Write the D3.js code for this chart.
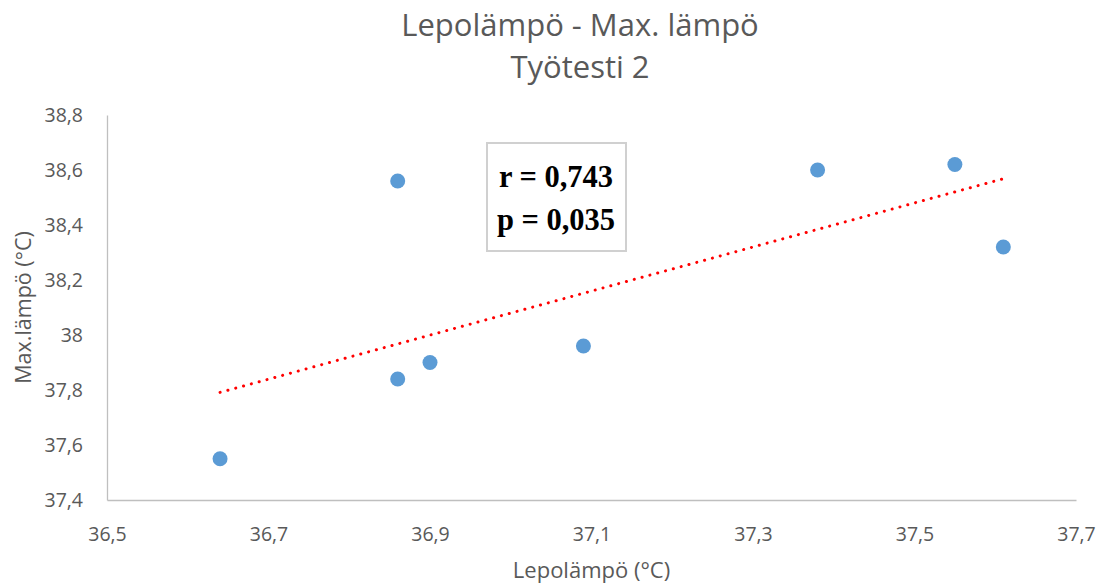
<!DOCTYPE html>
<html>
<head>
<meta charset="utf-8">
<script src="https://cdn.jsdelivr.net/npm/d3@7"></script>
<style>
  body { margin: 0; background: #fff; }
  svg { display: block; }
</style>
</head>
<body>
<div id="chart"></div>
<script>
// values
var lepo = [36.64, 36.86, 36.86, 36.90, 37.09, 37.38, 37.55, 37.61];
var maxl = [37.55, 38.56, 37.84, 37.90, 37.96, 38.60, 38.62, 38.32];
var xTicks = [36.5, 36.7, 36.9, 37.1, 37.3, 37.5, 37.7];
var yTicks = [37.4, 37.6, 37.8, 38.0, 38.2, 38.4, 38.6, 38.8];
var titleLines = ["Lepolämpö - Max. lämpö", "Työtesti 2"];
var statLines = ["r = 0,743", "p = 0,035"];

var width = 1106, height = 587;
var margin = {left: 107, right: 30, top: 115, bottom: 87};

var svg = d3.select("#chart").append("svg")
    .attr("width", width)
    .attr("height", height);

var x = d3.scaleLinear().domain([36.5, 37.7]).range([margin.left, width - margin.right]);
var y = d3.scaleLinear().domain([37.4, 38.8]).range([height - margin.bottom, margin.top]);

var fmt = function(d) { return d3.format(".1~f")(d).replace(".", ","); };

// axes, no tick marks
var xAxis = svg.append("g")
    .attr("transform", "translate(0," + y(37.4) + ")")
    .call(d3.axisBottom(x).tickValues(xTicks).tickFormat(fmt).tickSize(0).tickPadding(27));
var yAxis = svg.append("g")
    .attr("transform", "translate(" + x(36.5) + ",0)")
    .call(d3.axisLeft(y).tickValues(yTicks).tickFormat(fmt).tickSize(0).tickPadding(24));

[xAxis, yAxis].forEach(function(a) {
  a.select(".domain").attr("stroke", "#bfbfbf").attr("stroke-width", 1.3);
  a.selectAll("text")
    .attr("fill", "#595959")
    .style("font-family", "'Open Sans', sans-serif")
    .style("font-size", "19.5px");
});

// trend line (least squares)
var mx = d3.mean(lepo), my = d3.mean(maxl);
var sxy = d3.sum(lepo, function(v, i) { return (v - mx) * (maxl[i] - my); });
var sxx = d3.sum(lepo, function(v) { return (v - mx) * (v - mx); });
var slope = sxy / sxx, icept = my - slope * mx;
var x0 = d3.min(lepo), x1 = d3.max(lepo);

svg.append("line")
    .attr("x1", x(x0)).attr("y1", y(icept + slope * x0))
    .attr("x2", x(x1)).attr("y2", y(icept + slope * x1))
    .attr("stroke", "#ff0000")
    .attr("stroke-width", 3)
    .attr("stroke-linecap", "round")
    .attr("stroke-dasharray", "0.1 8");

// points
svg.selectAll("circle.pt")
  .data(lepo)
  .enter().append("circle")
    .attr("class", "pt")
    .attr("cx", function(d) { return x(d); })
    .attr("cy", function(d, i) { return y(maxl[i]); })
    .attr("r", 7.5)
    .attr("fill", "#5b9bd5");

// stats box
svg.append("rect")
    .attr("x", 487).attr("y", 143)
    .attr("width", 139).attr("height", 108)
    .attr("fill", "#fff")
    .attr("stroke", "#d0d0d0")
    .attr("stroke-width", 2);
svg.selectAll("text.stat")
  .data(statLines)
  .enter().append("text")
    .attr("class", "stat")
    .attr("x", 556)
    .attr("y", function(d, i) { return 187 + i * 43; })
    .attr("text-anchor", "middle")
    .attr("fill", "#000")
    .style("font-family", "'Liberation Serif', 'Times New Roman', serif")
    .style("font-weight", "bold")
    .style("font-size", "30.5px")
    .text(function(d) { return d; });

// titles
svg.selectAll("text.title")
  .data(titleLines)
  .enter().append("text")
    .attr("class", "title")
    .attr("x", 580)
    .attr("y", function(d, i) { return 36 + i * 42; })
    .attr("text-anchor", "middle")
    .attr("fill", "#595959")
    .style("font-family", "'Open Sans', sans-serif")
    .style("font-size", "31px")
    .text(function(d) { return d; });

svg.append("text")
    .attr("x", x(37.1))
    .attr("y", 578)
    .attr("text-anchor", "middle")
    .attr("fill", "#595959")
    .style("font-family", "'Open Sans', sans-serif")
    .style("font-size", "22px")
    .text("Lepolämpö (°C)");

svg.append("text")
    .attr("transform", "translate(31," + y(38.1) + ") rotate(-90)")
    .attr("text-anchor", "middle")
    .attr("fill", "#595959")
    .style("font-family", "'Open Sans', sans-serif")
    .style("font-size", "21.5px")
    .text("Max.lämpö (°C)");
</script>
</body>
</html>
